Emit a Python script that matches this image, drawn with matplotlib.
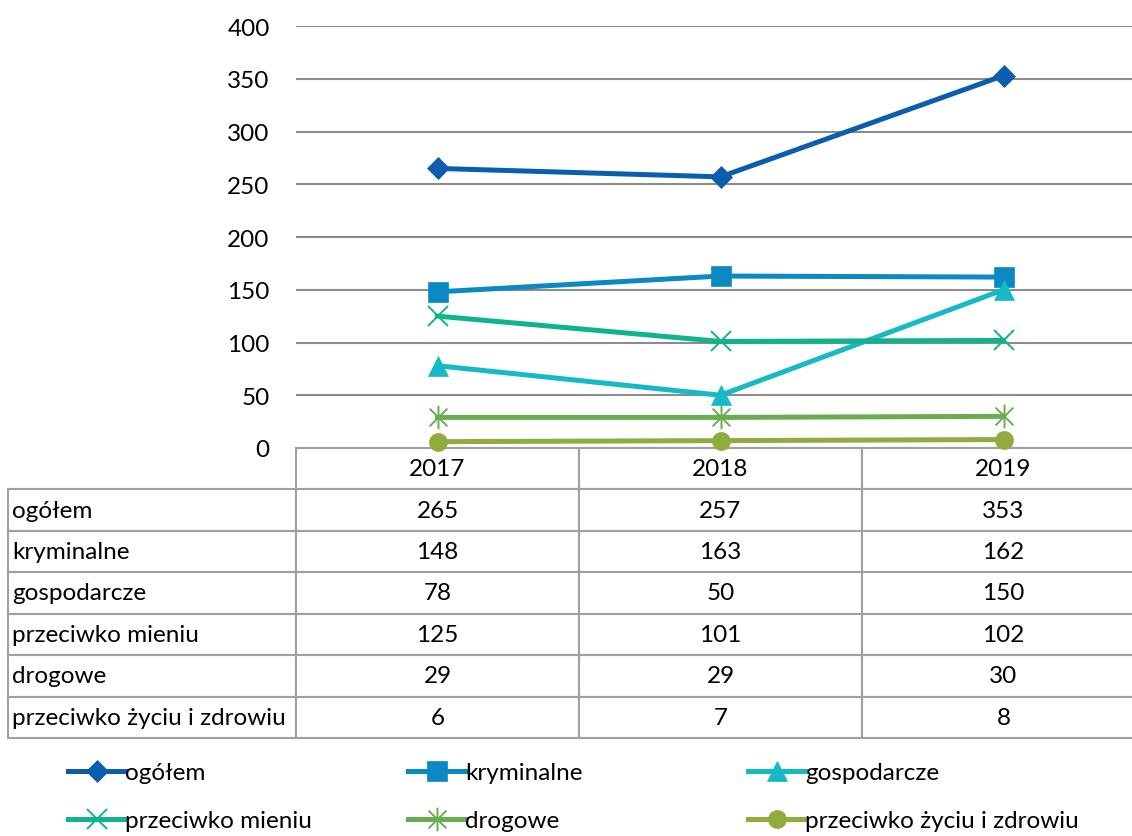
import numpy as np
import matplotlib
matplotlib.use('Agg')
import matplotlib.pyplot as plt
from matplotlib.path import Path

plt.rcParams['font.family'] = ['Lato', 'DejaVu Sans']

years = ['2017', '2018', '2019']
labels = ['ogółem', 'kryminalne', 'gospodarcze', 'przeciwko mieniu',
          'drogowe', 'przeciwko życiu i zdrowiu']
ogolem = [265, 257, 353]
kryminalne = [148, 163, 162]
gospodarcze = [78, 50, 150]
mienie = [125, 101, 102]
drogowe = [29, 29, 30]
zycie = [6, 7, 8]
series = [ogolem, kryminalne, gospodarcze, mienie, drogowe, zycie]

colors = ['#0B5DAE', '#0A89C2', '#16B9C6', '#10B48A', '#68AE50', '#8FAC3C']

# excel-like "star": vertical bar plus an X
star = Path([(0, -1), (0, 1), (-0.75, -0.75), (0.75, 0.75), (-0.75, 0.75), (0.75, -0.75)],
            [Path.MOVETO, Path.LINETO, Path.MOVETO, Path.LINETO, Path.MOVETO, Path.LINETO])
markers = ['D', 's', '^', 'x', star, 'o']
msizes = [11, 15, 14, 15, 17, 13]
FS = 17.5

W, H = 1132, 837
fig = plt.figure(figsize=(W / 100, H / 100), dpi=100)
# plot area in pixels: x 296..1145, y 27..449
ax = fig.add_axes([296 / W, 1 - 449 / H, 849 / W, 422 / H])

x = np.arange(len(years)) + 0.5
handles = []
for vals, lab, c, m, ms in zip(series, labels, colors, markers, msizes):
    filled = m != 'x' and m is not star
    h, = ax.plot(x, vals, color=c, lw=3.6, marker=m, markersize=ms,
                 markerfacecolor=c, markeredgecolor=c,
                 markeredgewidth=1.4 if not filled else 0.5,
                 label=lab, zorder=4, clip_on=False)
    handles.append(h)

ax.set_xlim(0, 3)
ax.set_ylim(0, 400)
ax.set_yticks(np.arange(0, 401, 50))
ax.set_xticks([])
ax.grid(axis='y', color='#8C8C8C', lw=1.5, zorder=0)
ax.tick_params(axis='y', length=0, pad=19, labelsize=FS)
for s in ax.spines.values():
    s.set_visible(False)

# data table under the plot
cell_text = [[lab] + [str(v) for v in vals] for lab, vals in zip(labels, series)]
col_w = np.array([288, 283, 283, 283]) / 1137
tab = ax.table(cellText=cell_text, colLabels=[''] + years,
               colWidths=list(col_w), cellLoc='center',
               bbox=[(8 - 296) / 849, (449 - 739) / 422, 1137 / 849, 290 / 422])
tab.auto_set_font_size(False)
tab.set_fontsize(FS)
tab.set_zorder(2)
for (r, c), cell in tab.get_celld().items():
    cell.set_edgecolor('#A0A0A0')
    cell.set_linewidth(1.5)
    if c == 0:
        cell.PAD = 0.015
        cell.get_text().set_ha('left')
    if r == 0 and c == 0:
        cell.visible_edges = ''

# legend: three columns placed separately
for i, x0 in enumerate([68, 408, 748]):
    fig.legend(handles=[handles[i], handles[i + 3]], loc='upper left',
               bbox_to_anchor=(x0 / W, 1 - 763 / H), frameon=False,
               fontsize=FS, handlelength=2.35, handletextpad=0.0,
               borderpad=0, borderaxespad=0, labelspacing=1.12, numpoints=1)

fig.savefig('out.png', dpi=100)
